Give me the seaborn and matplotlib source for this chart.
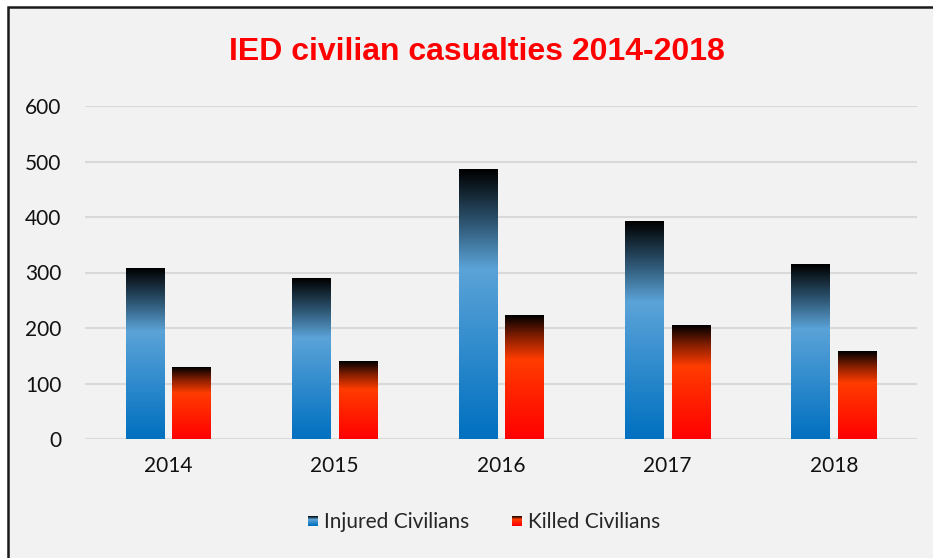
import numpy as np
import pandas as pd
import matplotlib
matplotlib.use("Agg")
import matplotlib.pyplot as plt
import seaborn as sb
from matplotlib.colors import LinearSegmentedColormap
from matplotlib.patches import Rectangle
from matplotlib.legend_handler import HandlerBase

years = ["2014", "2015", "2016", "2017", "2018"]
injured = [308, 290, 485, 391, 315]
killed = [128, 139, 223, 204, 158]
series = ["Injured Civilians", "Killed Civilians"]

blue_cmap = LinearSegmentedColormap.from_list(
    "blue", [(0, "#0070C0"), (0.63, "#5BA3D8"), (0.8, "#2E5673"), (1, "#000000")])
red_cmap = LinearSegmentedColormap.from_list(
    "red", [(0, "#FF0000"), (0.64, "#FF3C00"), (0.82, "#8A2000"), (1, "#000000")])
cmaps = {series[0]: blue_cmap, series[1]: red_cmap}

data = pd.DataFrame({
    "year": years * 2,
    "value": injured + killed,
    "serie": [series[0]] * len(years) + [series[1]] * len(years),
})


class GradientHandler(HandlerBase):
    def __init__(self, cmap):
        super().__init__()
        self.cmap = cmap

    def create_artists(self, legend, orig_handle, xdescent, ydescent,
                       width, height, fontsize, trans):
        n = 20
        side = 10 * 72 / 100
        x0 = -xdescent + width - side
        y0 = -ydescent + (height - side) / 2
        arts = []
        for i in range(n):
            r = Rectangle((x0, y0 + side * i / n), side, side / n + 0.05,
                          facecolor=self.cmap(i / (n - 1)), edgecolor="none",
                          transform=trans)
            arts.append(r)
        return arts


sb.set_theme(style="white")
plt.rcParams["font.family"] = ["Lato", "DejaVu Sans"]

fig = plt.figure(figsize=(9.33, 5.58), dpi=100)
fig.patch.set_facecolor("white")
fig.patches.append(Rectangle((8 / 933, -0.1), 1.2, (558 - 7) / 558 + 0.1,
                             transform=fig.transFigure, facecolor="#F2F2F2",
                             edgecolor="#1a1a1a", linewidth=1.8, zorder=-5))

ax = fig.add_axes([85 / 933, (558 - 439) / 558, 832 / 933, 333 / 558])
ax.set_facecolor("#F2F2F2")

sb.barplot(data=data, x="year", y="value", hue="serie", ax=ax,
           width=0.56, gap=0.18, palette=["#5BA3D8", "#FF3C00"], legend=False)

grad = np.linspace(0, 1, 256).reshape(-1, 1)
for container, name in zip(ax.containers, series):
    for bar in container:
        x, w, h = bar.get_x(), bar.get_width(), bar.get_height()
        bar.set_visible(False)
        ax.imshow(grad, cmap=cmaps[name], origin="lower", aspect="auto",
                  extent=[x, x + w, 0, h], zorder=3, interpolation="bilinear")

ax.set_xlim(-0.5, len(years) - 0.5)
ax.set_ylim(0, 600)
ax.set_yticks(range(0, 601, 100))
ax.yaxis.grid(True, color="#D9D9D9", linewidth=1.5)
ax.set_axisbelow(True)
for s in ax.spines.values():
    s.set_visible(False)
ax.tick_params(axis="both", length=0, labelsize=15, colors="#111111")
ax.tick_params(axis="y", pad=17)
ax.tick_params(axis="x", pad=12)
ax.set_xlabel("")
ax.set_ylabel("")

fig.text(477 / 933, 1 - 52 / 558, "IED civilian casualties 2014-2018",
         ha="center", va="center", color="#FF0000", fontsize=23,
         fontweight="bold", family=["Liberation Sans Narrow", "Liberation Sans"])

handles = [Rectangle((0, 0), 1, 1) for _ in series]
fig.legend(handles, series, loc="center", bbox_to_anchor=(482 / 933, 1 - 522 / 558),
           ncol=2, frameon=False, fontsize=15, handlelength=0.7,
           handletextpad=0.3, columnspacing=1.8,
           handler_map={handles[0]: GradientHandler(blue_cmap),
                        handles[1]: GradientHandler(red_cmap)})

plt.savefig("out.png", dpi=100, facecolor=fig.get_facecolor())
